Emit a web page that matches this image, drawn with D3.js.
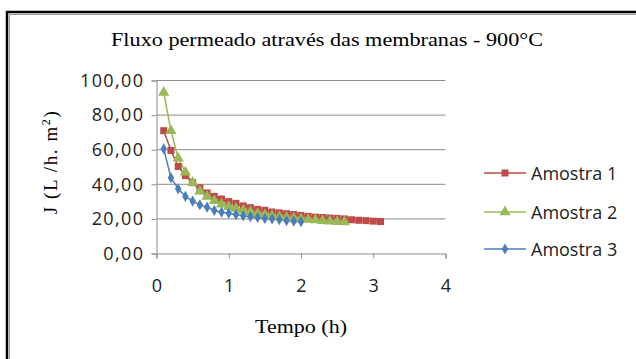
<!DOCTYPE html>
<html>
<head>
  <meta charset="utf-8">
  <script src="https://d3js.org/d3.v7.min.js"></script>
  <style>
    body { margin: 0; background: white; }
    svg { display: block; }
  </style>
</head>
<body>
  <svg id="chart" width="636" height="359"></svg>
  <script>
    // data
    const chartTitle = "Fluxo permeado através das membranas -  900°C";
    const seriesNames = ["Amostra 1", "Amostra 2", "Amostra 3"];
    const timesA1 = [0.1,0.2,0.3,0.4,0.5,0.6,0.7,0.8,0.9,1.0,1.1,1.2,1.3,1.4,1.5,1.6,1.7,1.8,1.9,2.0,2.1,2.2,2.3,2.4,2.5,2.6,2.7,2.8,2.9,3.0,3.1];
    const fluxA1 = [71,59.6,50.3,45,41,38,35,33,31.5,30,29,27.5,26.5,25.5,25,24,23.5,23,22.5,22,21.5,21,20.8,20.5,20.3,20,19.5,19.2,19,18.7,18.5];
    const timesA2 = [0.1,0.2,0.3,0.4,0.5,0.6,0.7,0.8,0.9,1.0,1.1,1.2,1.3,1.4,1.5,1.6,1.7,1.8,1.9,2.0,2.1,2.2,2.3,2.4,2.5,2.6];
    const fluxA2 = [93,71,55,47,41,36,33,30.5,28.5,27,26,25,24,23,22.3,21.7,21.2,20.8,20.4,20,19.6,19.3,19,18.7,18.4,18.2];
    const timesA3 = [0.1,0.2,0.3,0.4,0.5,0.6,0.7,0.8,0.9,1.0,1.1,1.2,1.3,1.4,1.5,1.6,1.7,1.8,1.9,2.0];
    const fluxA3 = [60.5,43.8,37.4,33,30.3,28.2,26.8,24.9,23.9,23.3,22.5,21.8,21.3,20.8,20.3,20,19.5,19,18.7,18.4];
    const xTicks = [0, 1, 2, 3, 4];
    const yTicks = [0, 20, 40, 60, 80, 100];

    const colors = ["#BE4B48", "#98B954", "#4A7EBB"];
    const markers = [d3.symbolSquare, d3.symbolTriangle, d3.symbolDiamond];
    const markerSize = [49, 55, 36];

    const series = [
      { name: seriesNames[0], pts: timesA1.map((t, i) => [t, fluxA1[i]]) },
      { name: seriesNames[1], pts: timesA2.map((t, i) => [t, fluxA2[i]]) },
      { name: seriesNames[2], pts: timesA3.map((t, i) => [t, fluxA3[i]]) }
    ];

    const svg = d3.select("#chart");

    // outer frame (black with grey inner line), only top and left visible
    svg.append("line").attr("x1", 6).attr("x2", 636).attr("y1", 12).attr("y2", 12)
      .attr("stroke", "#000").attr("stroke-width", 2.5);
    svg.append("line").attr("x1", 7).attr("x2", 7).attr("y1", 11).attr("y2", 359)
      .attr("stroke", "#000").attr("stroke-width", 2.5);
    svg.append("line").attr("x1", 9.5).attr("x2", 636).attr("y1", 14.5).attr("y2", 14.5)
      .attr("stroke", "#999").attr("stroke-width", 1);
    svg.append("line").attr("x1", 9.5).attr("x2", 9.5).attr("y1", 14.5).attr("y2", 359)
      .attr("stroke", "#999").attr("stroke-width", 1);

    const x = d3.scaleLinear().domain([0, 4]).range([156.5, 445.5]);
    const y = d3.scaleLinear().domain([0, 100]).range([253.5, 80.5]);

    // gridlines
    svg.append("g").selectAll("line").data(yTicks.filter(v => v > 0)).join("line")
      .attr("x1", x(0)).attr("x2", x(4))
      .attr("y1", d => y(d)).attr("y2", d => y(d))
      .attr("stroke", "#8c8c8c").attr("stroke-width", 1);

    const fmt = v => d3.format(".2f")(v).replace(".", ",");

    const yAxis = svg.append("g").attr("transform", `translate(${x(0)},0)`)
      .call(d3.axisLeft(y).tickValues(yTicks).tickFormat(fmt).tickSize(5).tickPadding(7));
    const xAxis = svg.append("g").attr("transform", `translate(0,${y(0)})`)
      .call(d3.axisBottom(x).tickValues(xTicks).tickFormat(d3.format("d")).tickSize(5).tickPadding(21));
    [yAxis, xAxis].forEach(a => {
      a.select(".domain").attr("stroke", "#8c8c8c");
      a.selectAll(".tick line").attr("stroke", "#8c8c8c");
      a.selectAll("text").attr("fill", "#222")
        .style("font-family", "'Open Sans', sans-serif").style("font-size", "18px");
    });
    yAxis.selectAll("text").style("letter-spacing", "1.4px");

    // lines and markers
    const line = d3.line().x(d => x(d[0])).y(d => y(d[1]));
    series.forEach((s, i) => {
      svg.append("path").datum(s.pts).attr("d", line)
        .attr("fill", "none").attr("stroke", colors[i]).attr("stroke-width", 1.5);
    });
    series.forEach((s, i) => {
      svg.append("g").selectAll("path").data(s.pts).join("path")
        .attr("transform", d => `translate(${x(d[0])},${y(d[1])})`)
        .attr("d", d3.symbol().type(markers[i]).size(markerSize[i]))
        .attr("fill", colors[i]);
    });

    // title and axis labels
    svg.append("text").attr("x", 327).attr("y", 46).attr("text-anchor", "middle")
      .attr("textLength", 432).attr("lengthAdjust", "spacingAndGlyphs")
      .style("font-family", "'Liberation Serif', serif").style("font-size", "19px")
      .text(chartTitle);

    svg.append("text").attr("x", 301).attr("y", 333).attr("text-anchor", "middle")
      .attr("textLength", 92).attr("lengthAdjust", "spacingAndGlyphs")
      .style("font-family", "'Liberation Serif', serif").style("font-size", "19px")
      .text("Tempo (h)");

    const yl = svg.append("text")
      .attr("transform", "translate(57,162) rotate(-90)")
      .attr("text-anchor", "middle")
      .style("font-family", "'Liberation Serif', serif").style("font-size", "19px")
      .style("letter-spacing", "1.6px");
    yl.append("tspan").text("J (L /h.  m");
    yl.append("tspan").attr("dy", -7).style("font-size", "12px").text("2");
    yl.append("tspan").attr("dy", 7).text(")");

    // legend
    const legend = svg.append("g");
    const legY = [173, 212, 249];
    series.forEach((s, i) => {
      const g = legend.append("g").attr("transform", `translate(0,${legY[i]})`);
      g.append("line").attr("x1", 484).attr("x2", 526).attr("y1", 0).attr("y2", 0)
        .attr("stroke", colors[i]).attr("stroke-width", 1.5);
      g.append("path").attr("transform", "translate(505,0)")
        .attr("d", d3.symbol().type(markers[i]).size(markerSize[i]))
        .attr("fill", colors[i]);
      g.append("text").attr("x", 531).attr("y", 6.5)
        .style("font-family", "'Open Sans', sans-serif").style("font-size", "18px")
        .attr("fill", "#222")
        .text(s.name);
    });
  </script>
</body>
</html>
